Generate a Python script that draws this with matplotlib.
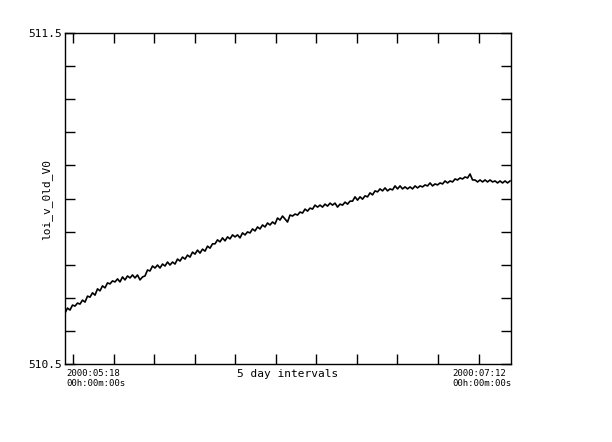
import numpy as np
import pandas as pd
import matplotlib
matplotlib.use("Agg")
import matplotlib.pyplot as plt
from matplotlib.ticker import FixedLocator, NullFormatter
import matplotlib.dates as mdates

# series, one sample every ~7.4 h from 2000-05-18
start = pd.Timestamp("2000-05-18 00:00")
values = [
    510.654, 510.669, 510.663, 510.678, 510.675, 510.684, 510.681, 510.693, 510.687, 510.705,
    510.702, 510.715, 510.708, 510.727, 510.721, 510.736, 510.730, 510.745, 510.742, 510.751,
    510.748, 510.757, 510.748, 510.763, 510.754, 510.766, 510.760, 510.769, 510.760, 510.769,
    510.754, 510.763, 510.766, 510.784, 510.781, 510.796, 510.790, 510.799, 510.790, 510.802,
    510.796, 510.808, 510.799, 510.808, 510.802, 510.817, 510.811, 510.823, 510.817, 510.829,
    510.823, 510.838, 510.832, 510.844, 510.835, 510.847, 510.841, 510.856, 510.850, 510.863,
    510.863, 510.875, 510.869, 510.881, 510.872, 510.884, 510.878, 510.890, 510.884, 510.890,
    510.881, 510.896, 510.890, 510.899, 510.896, 510.908, 510.902, 510.914, 510.908, 510.920,
    510.914, 510.926, 510.920, 510.929, 510.923, 510.941, 510.935, 510.947, 510.938, 510.929,
    510.950, 510.947, 510.953, 510.950, 510.959, 510.956, 510.968, 510.962, 510.971, 510.968,
    510.980, 510.974, 510.980, 510.974, 510.983, 510.977, 510.986, 510.980, 510.986, 510.974,
    510.983, 510.980, 510.989, 510.983, 510.992, 510.992, 511.005, 510.995, 511.005, 510.998,
    511.008, 511.005, 511.017, 511.011, 511.023, 511.020, 511.029, 511.023, 511.032, 511.023,
    511.029, 511.026, 511.038, 511.029, 511.038, 511.029, 511.035, 511.029, 511.035, 511.029,
    511.038, 511.032, 511.038, 511.035, 511.041, 511.038, 511.047, 511.038, 511.044, 511.041,
    511.047, 511.044, 511.053, 511.047, 511.053, 511.050, 511.059, 511.056, 511.062, 511.059,
    511.065, 511.062, 511.074, 511.056, 511.056, 511.050, 511.056, 511.050, 511.056, 511.050,
    511.056, 511.050, 511.053, 511.047, 511.053, 511.047, 511.053, 511.047, 511.053,
]
times = pd.date_range(start, periods=len(values), freq="444min")

x_start = pd.Timestamp("2000-05-18")
x_end = pd.Timestamp("2000-07-12")
x_ticks = pd.date_range("2000-05-19", "2000-07-08", freq="5D")
y_ticks = np.round(np.arange(510.5, 511.51, 0.1), 1)
y_labels = {510.5: "510.5", 511.5: "511.5"}
left_label = "2000:05:18\n00h:00m:00s"
right_label = "2000:07:12\n00h:00m:00s"
x_title = "5 day intervals"
y_title = "loi_v_0ld_V0"

plt.rcParams['font.family'] = ['DejaVu Sans Mono']

fig = plt.figure(figsize=(6.12, 4.42), dpi=100)
ax = fig.add_axes([65/612, 78/442, 446/612, 331/442])

ax.plot(times, values, color="black", lw=1.2)

ax.set_xlim(x_start, x_end)
ax.set_ylim(510.5, 511.5)
ax.xaxis.set_major_locator(FixedLocator(mdates.date2num(x_ticks)))
ax.xaxis.set_major_formatter(NullFormatter())
ax.yaxis.set_major_locator(FixedLocator(y_ticks))
ax.set_yticklabels([y_labels.get(float(v), "") for v in y_ticks])
ax.tick_params(direction="in", length=7, width=1, top=True, right=True,
               labelsize=8, pad=2, color="black")
for s in ax.spines.values():
    s.set_linewidth(1)

fig.text(66/612, 1 - 369/442, left_label, fontsize=6.5, va="top", ha="left", linespacing=1.1)
fig.text(452/612, 1 - 369/442, right_label, fontsize=6.5, va="top", ha="left", linespacing=1.1)
fig.text(288/612, 1 - 374/442, x_title, fontsize=8, va="center", ha="center")
fig.text(47/612, 1 - 200/442, y_title, fontsize=8, va="center", ha="center", rotation=90)

fig.savefig("out.png", dpi=100)
